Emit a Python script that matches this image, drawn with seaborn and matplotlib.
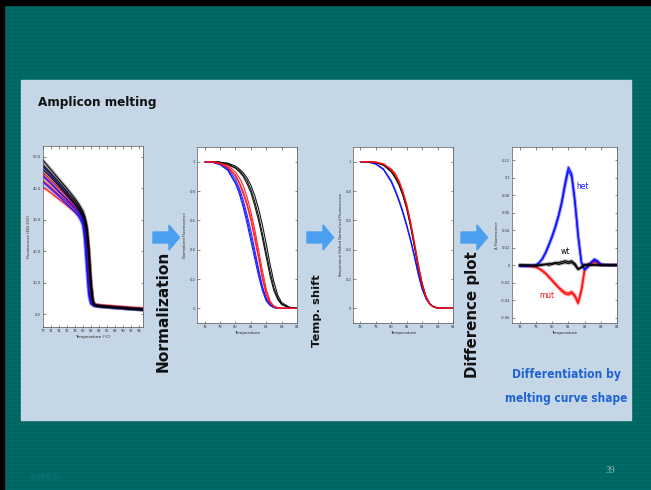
import numpy as np
import pandas as pd
import matplotlib
matplotlib.use("Agg")
import matplotlib.pyplot as plt
from matplotlib import font_manager as fm
from matplotlib.patches import Rectangle, Polygon
import seaborn as sns

sns.set_theme(style="white")
plt.rcParams["font.family"] = ["DejaVu Sans"]

# ---------------- data ----------------
# Raw melting curves (fluorescence vs temperature)
raw_temp = [70, 72, 74, 76, 78, 79, 80, 80.5, 81, 81.5, 82, 82.5, 83, 84, 86, 88, 90, 92, 94, 95]
raw_black = [
    [49.0, 46.0, 43.0, 40.0, 36.8, 35.0, 32.8, 31.0, 28.0, 21.0, 11.0, 4.5, 3.0, 2.8, 2.5, 2.3, 2.1, 1.9, 1.7, 1.6],
    [47.5, 44.8, 42.0, 39.0, 36.0, 34.2, 32.0, 30.2, 27.0, 20.0, 10.0, 4.0, 2.9, 2.7, 2.4, 2.2, 2.0, 1.8, 1.6, 1.5],
    [46.0, 43.5, 40.8, 38.0, 35.0, 33.3, 31.2, 29.5, 26.0, 18.5, 9.0, 3.8, 2.8, 2.6, 2.3, 2.1, 1.9, 1.7, 1.5, 1.4],
]
raw_red = [
    [45.0, 42.5, 40.0, 37.5, 34.8, 33.3, 31.5, 30.0, 27.0, 19.5, 9.5, 4.0, 3.0, 2.8, 2.6, 2.4, 2.2, 2.0, 1.8, 1.7],
    [42.5, 40.3, 38.0, 35.8, 33.5, 32.2, 30.5, 29.0, 25.5, 17.0, 7.5, 3.6, 3.0, 2.8, 2.6, 2.4, 2.2, 2.0, 1.9, 1.8],
    [40.5, 38.6, 36.6, 34.6, 32.5, 31.2, 29.6, 28.0, 24.0, 15.0, 6.5, 3.5, 3.1, 2.9, 2.7, 2.5, 2.3, 2.1, 2.0, 1.9],
    [44.0, 41.5, 39.0, 36.7, 34.2, 32.8, 31.0, 29.4, 26.0, 18.0, 8.5, 3.8, 3.0, 2.8, 2.6, 2.4, 2.2, 2.0, 1.8, 1.7],
]
raw_blue = [
    [47.0, 44.2, 41.3, 38.3, 35.2, 33.4, 30.5, 26.0, 17.0, 8.0, 3.8, 3.0, 2.8, 2.6, 2.4, 2.2, 2.0, 1.8, 1.6, 1.5],
    [44.0, 41.6, 39.0, 36.4, 33.6, 32.0, 29.5, 25.0, 16.0, 7.0, 3.6, 2.9, 2.7, 2.5, 2.3, 2.1, 1.9, 1.7, 1.6, 1.5],
    [42.0, 39.8, 37.5, 35.1, 32.6, 31.0, 28.3, 23.5, 14.5, 6.0, 3.4, 2.9, 2.7, 2.5, 2.3, 2.1, 1.9, 1.7, 1.6, 1.5],
]

# Normalized curves
norm_temp = [78.0, 78.5, 79.0, 79.5, 80.0, 80.25, 80.5, 80.75, 81.0, 81.25, 81.5, 81.75,
             82.0, 82.25, 82.5, 82.75, 83.0, 83.5, 84.0]
norm_black = [
    [1.0, 1.0, 0.995, 0.985, 0.96, 0.94, 0.91, 0.87, 0.81, 0.73, 0.63, 0.51, 0.38, 0.25, 0.14, 0.07, 0.03, 0.005, 0.0],
    [1.0, 1.0, 0.997, 0.99, 0.97, 0.95, 0.925, 0.89, 0.84, 0.77, 0.68, 0.57, 0.44, 0.30, 0.18, 0.09, 0.04, 0.008, 0.0],
    [1.0, 1.0, 0.995, 0.98, 0.955, 0.93, 0.90, 0.85, 0.79, 0.70, 0.60, 0.48, 0.35, 0.22, 0.12, 0.06, 0.025, 0.004, 0.0],
]
norm_blue = [
    [1.0, 0.995, 0.98, 0.94, 0.85, 0.78, 0.69, 0.58, 0.46, 0.34, 0.22, 0.12, 0.05, 0.02, 0.005, 0.0, 0.0, 0.0, 0.0],
    [1.0, 0.998, 0.985, 0.955, 0.88, 0.82, 0.74, 0.64, 0.53, 0.40, 0.27, 0.15, 0.07, 0.025, 0.008, 0.002, 0.0, 0.0, 0.0],
    [1.0, 0.997, 0.98, 0.945, 0.86, 0.80, 0.71, 0.61, 0.49, 0.37, 0.25, 0.14, 0.06, 0.02, 0.006, 0.001, 0.0, 0.0, 0.0],
]
norm_red = [
    [1.0, 1.0, 0.99, 0.965, 0.91, 0.86, 0.80, 0.72, 0.62, 0.50, 0.36, 0.22, 0.11, 0.04, 0.012, 0.003, 0.0, 0.0, 0.0],
    [1.0, 1.0, 0.99, 0.975, 0.93, 0.89, 0.84, 0.76, 0.66, 0.54, 0.40, 0.26, 0.13, 0.05, 0.015, 0.004, 0.001, 0.0, 0.0],
    [1.0, 0.999, 0.985, 0.96, 0.90, 0.85, 0.78, 0.70, 0.60, 0.47, 0.34, 0.20, 0.09, 0.035, 0.01, 0.002, 0.0, 0.0, 0.0],
]

# Temperature-shifted normalized curves
shift_black = [
    [1.0, 1.0, 0.995, 0.98, 0.94, 0.90, 0.85, 0.78, 0.69, 0.57, 0.43, 0.29, 0.17, 0.08, 0.03, 0.01, 0.003, 0.0, 0.0],
    [1.0, 1.0, 0.993, 0.975, 0.93, 0.89, 0.84, 0.77, 0.68, 0.56, 0.42, 0.28, 0.16, 0.075, 0.03, 0.01, 0.002, 0.0, 0.0],
]
shift_blue = [
    [1.0, 0.998, 0.985, 0.95, 0.87, 0.81, 0.74, 0.66, 0.57, 0.47, 0.36, 0.24, 0.14, 0.07, 0.03, 0.01, 0.003, 0.0, 0.0],
    [1.0, 0.998, 0.983, 0.945, 0.86, 0.80, 0.73, 0.65, 0.56, 0.46, 0.35, 0.23, 0.13, 0.065, 0.028, 0.009, 0.002, 0.0, 0.0],
]
shift_red = [
    [1.0, 1.0, 0.997, 0.985, 0.95, 0.92, 0.87, 0.80, 0.71, 0.59, 0.45, 0.30, 0.17, 0.08, 0.03, 0.01, 0.003, 0.0, 0.0],
    [1.0, 1.0, 0.996, 0.982, 0.945, 0.91, 0.86, 0.79, 0.70, 0.58, 0.44, 0.29, 0.16, 0.075, 0.028, 0.009, 0.002, 0.0, 0.0],
]

# Difference curves (sample minus wild-type reference)
diff_temp = [78.0, 78.5, 79.0, 79.2, 79.4, 79.6, 79.8, 80.0, 80.2, 80.4, 80.6, 80.8, 81.0,
             81.2, 81.4, 81.6, 81.8, 82.0, 82.2, 82.4, 82.6, 82.8, 83.0, 83.5, 84.0]
diff_het = [
    [-0.001, -0.001, 0.0, 0.003, 0.008, 0.015, 0.024, 0.034, 0.045, 0.058, 0.074, 0.095, 0.112,
     0.105, 0.075, 0.035, 0.004, -0.005, -0.002, 0.003, 0.007, 0.005, 0.001, 0.0, 0.0],
    [-0.001, -0.001, 0.0, 0.003, 0.007, 0.014, 0.023, 0.032, 0.043, 0.056, 0.071, 0.091, 0.108,
     0.101, 0.072, 0.033, 0.003, -0.005, -0.002, 0.003, 0.006, 0.004, 0.001, 0.0, 0.0],
]
diff_wt = [
    [0.0, 0.0, 0.0, 0.0, 0.001, 0.001, 0.002, 0.002, 0.003, 0.003, 0.004, 0.005, 0.004,
     0.005, 0.002, -0.004, -0.003, 0.0, 0.001, 0.0, 0.001, 0.0, 0.0, 0.0, 0.0],
    [0.0, 0.0, -0.001, 0.0, 0.0, 0.001, 0.0, 0.001, 0.002, 0.001, 0.002, 0.003, 0.002,
     0.003, 0.0, -0.005, -0.002, 0.001, 0.0, 0.0, 0.0, 0.0, 0.0, 0.0, 0.0],
]
diff_mut = [
    [0.0, -0.001, -0.002, -0.004, -0.007, -0.010, -0.014, -0.018, -0.022, -0.026, -0.030, -0.033, -0.034,
     -0.032, -0.036, -0.044, -0.030, -0.006, 0.001, 0.002, 0.005, 0.003, 0.0, 0.0, 0.0],
    [0.0, -0.001, -0.002, -0.004, -0.006, -0.009, -0.013, -0.017, -0.021, -0.025, -0.028, -0.031, -0.032,
     -0.030, -0.034, -0.042, -0.028, -0.005, 0.001, 0.002, 0.004, 0.002, 0.0, 0.0, 0.0],
]

curve_colors = {"black": "#000000", "blue": "#1010ff", "red": "#ff1010"}


def condensed_family():
    """Pick an installed narrow sans family for the slide headings."""
    for fam in ["Liberation Sans Narrow", "DejaVu Sans", "Noto Sans", "Open Sans", "Roboto"]:
        try:
            path = fm.findfont(fm.FontProperties(family=fam, weight="bold", stretch="condensed"),
                               fallback_to_default=False)
        except Exception:
            continue
        if "ondensed" in path or "Narrow" in path:
            return fam
    return "Roboto"


NARROW = condensed_family()


def long_frame(temps, groups):
    rows = []
    for group, curves in groups.items():
        for i, vals in enumerate(curves):
            for t, v in zip(temps, vals):
                rows.append((group, f"{group}{i}", t, v))
    return pd.DataFrame(rows, columns=["group", "curve", "temp", "value"])


def draw_curves(ax, df, order, lw=0.9, halo=0.0):
    for g in order:
        sub = df[df["group"] == g]
        if halo:
            sns.lineplot(data=sub, x="temp", y="value", units="curve", estimator=None,
                         color=curve_colors[g], ax=ax, legend=False, sort=False,
                         lw=halo, alpha=0.22, solid_capstyle="round")
        sns.lineplot(data=sub, x="temp", y="value", units="curve", estimator=None,
                     color=curve_colors[g], ax=ax, legend=False, sort=False, lw=lw, alpha=0.9)


def style_axes(ax, xlim, ylim, xticks, yticks, ylabels, xlabel, ylabel):
    ax.set_facecolor("white")
    ax.set_xlim(*xlim)
    ax.set_ylim(*ylim)
    ax.set_xticks(xticks)
    ax.set_xticklabels([str(t) for t in xticks])
    ax.set_yticks(yticks)
    ax.set_yticklabels(ylabels)
    ax.tick_params(direction="in", length=1.8, width=0.4, labelsize=2.6, pad=1.2,
                   top=True, right=True, bottom=True, left=True, colors="#333333")
    for s in ax.spines.values():
        s.set_linewidth(0.5)
        s.set_color("#555555")
    ax.set_xlabel(xlabel, fontsize=3.0, labelpad=1.5)
    ax.set_ylabel(ylabel, fontsize=2.6, labelpad=1.5)


W, H = 651, 490
fig = plt.figure(figsize=(W / 100, H / 100), dpi=100)
renderer = fig.canvas.get_renderer()


def fx(px):
    return px / W


def fy(py):
    return 1 - py / H


def fit_text(txt, length_px, vertical=False):
    """Scale a text's font size so that it spans the given number of pixels."""
    bb = txt.get_window_extent(renderer=renderer)
    cur = bb.height if vertical else bb.width
    txt.set_fontsize(txt.get_fontsize() * length_px / cur)


# slide background: striped teal with a black frame on top/left
bg = fig.add_axes([0, 0, 1, 1], zorder=-10)
bg.set_xlim(0, W)
bg.set_ylim(H, 0)
bg.axis("off")
stripe = np.array([0.0 if (r // 2) % 2 == 0 else 1.0 for r in range(H)])[:, None]
bg.imshow(stripe, extent=(0, W, H, 0), aspect="auto",
          cmap=matplotlib.colors.ListedColormap(["#006a66", "#00645f"]), interpolation="nearest")
bg.add_patch(Rectangle((0, 0), W, 5, color="black"))
bg.add_patch(Rectangle((0, 0), 4, H, color="black"))
bg.add_patch(Rectangle((21, 80), 610, 340, color="#c5d6e6"))

# block arrows between panels
for x0 in (153, 307, 461):
    ym = 237.5
    verts = [(x0, ym - 5.5), (x0 + 16, ym - 5.5), (x0 + 16, ym - 12.5), (x0 + 26.5, ym),
             (x0 + 16, ym + 12.5), (x0 + 16, ym + 5.5), (x0, ym + 5.5)]
    bg.add_patch(Polygon(verts, closed=True, color="#4a9ff0"))

head_kw = dict(fontweight="bold", family=[NARROW, "DejaVu Sans"], fontstretch="condensed")
t = bg.text(38, 102, "Amplicon melting", fontsize=10, va="center", ha="left",
            color="#111111", **head_kw)
fit_text(t, 118)
t = bg.text(566, 374, "Differentiation by", fontsize=12, ha="center", va="center",
            color="#1f63d4", **head_kw)
fit_text(t, 108)
t = bg.text(566, 398, "melting curve shape", fontsize=12, ha="center", va="center",
            color="#1f63d4", **head_kw)
fit_text(t, 122)

for x, y, label, length in [(163, 311, "Normalization", 120),
                            (317, 311, "Temp. shift", 72),
                            (472, 315, "Difference plot", 126)]:
    t = bg.text(x, y, label, rotation=90, fontsize=9, fontweight="bold",
                ha="center", va="center", color="#111111")
    fit_text(t, length, vertical=True)

bg.text(610, 470, "39", fontsize=7, ha="center", va="center", color="#8fb9b6",
        family=["Liberation Serif", "DejaVu Serif"])
bg.text(30, 478, "2009/8/26", fontsize=5.5, ha="left", va="center", color="#137488",
        family=["Liberation Serif", "DejaVu Serif"])

# panel 1: raw fluorescence
ax1 = fig.add_axes([fx(42.7), fy(327), fx(100.3), (327 - 146) / H])
df1 = long_frame(raw_temp, {"blue": raw_blue, "red": raw_red, "black": raw_black})
draw_curves(ax1, df1, ["red", "blue", "black"], lw=0.9, halo=2.6)
style_axes(ax1, (70, 95), (-4, 53.4), list(range(70, 95, 2)), [0, 10, 20, 30, 40, 50],
           ["0.0", "10.0", "20.0", "30.0", "40.0", "50.0"],
           "Temperature (°C)", "Fluorescence (465-510)")

temp_ticks = [78, 79, 80, 81, 82, 83, 84]
norm_ticks = [0, 0.2, 0.4, 0.6, 0.8, 1.0]
norm_labels = ["0", "0.2", "0.4", "0.6", "0.8", "1"]

# panel 2: normalized
ax2 = fig.add_axes([fx(197), fy(323), fx(100), 176 / H])
df2 = long_frame(norm_temp, {"black": norm_black, "blue": norm_blue, "red": norm_red})
draw_curves(ax2, df2, ["black", "blue", "red"], lw=0.8)
style_axes(ax2, (77.5, 84), (-0.1, 1.1), temp_ticks, norm_ticks, norm_labels,
           "Temperature", "Normalized Fluorescence")

# panel 3: temperature shifted
ax3 = fig.add_axes([fx(352.7), fy(323), fx(100.3), 176 / H])
df3 = long_frame(norm_temp, {"blue": shift_blue, "black": shift_black, "red": shift_red})
draw_curves(ax3, df3, ["blue", "black", "red"], lw=0.9)
style_axes(ax3, (77.5, 84), (-0.1, 1.1), temp_ticks, norm_ticks, norm_labels,
           "Temperature", "Temperature Shifted Normalized Fluorescence")

# panel 4: difference plot
ax4 = fig.add_axes([fx(511.7), fy(323), fx(105.3), 176 / H])
df4 = long_frame(diff_temp, {"black": diff_wt, "red": diff_mut, "blue": diff_het})
draw_curves(ax4, df4, ["red", "blue", "black"], lw=1.0, halo=2.6)
diff_ticks = [-0.06, -0.04, -0.02, 0, 0.02, 0.04, 0.06, 0.08, 0.1, 0.12]
diff_labels = ["-0.06", "-0.04", "-0.02", "0", "0.02", "0.04", "0.06", "0.08", "0.1", "0.12"]
style_axes(ax4, (77.5, 84), (-0.066, 0.135), temp_ticks, diff_ticks, diff_labels,
           "Temperature", "Δ Fluorescence")
lab_kw = dict(fontsize=6, ha="center", va="center", family=[NARROW, "DejaVu Sans"],
              fontstretch="condensed")
ax4.text(81.85, 0.09, "het", color=curve_colors["blue"], **lab_kw)
ax4.text(80.8, 0.016, "wt", color="black", **lab_kw)
ax4.text(79.7, -0.035, "mut", color=curve_colors["red"], **lab_kw)

fig.savefig("out.png", dpi=100)
